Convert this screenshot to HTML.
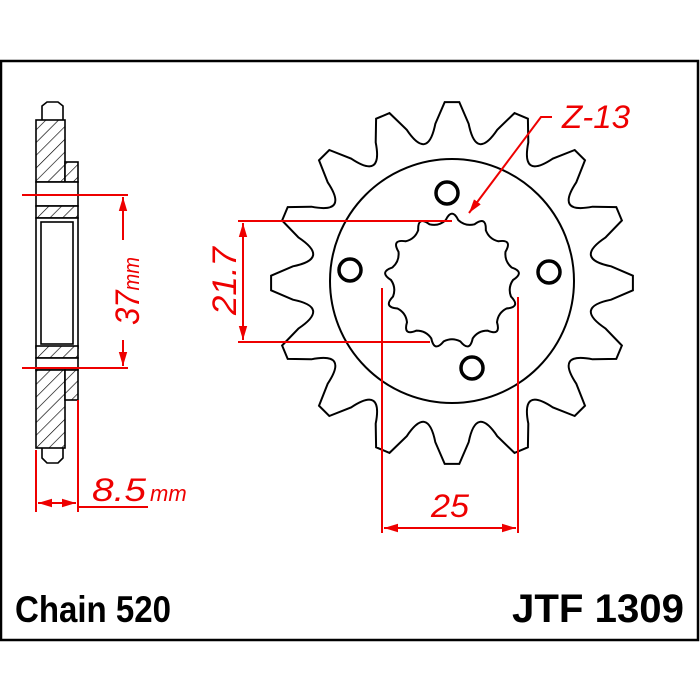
<!DOCTYPE html>
<html><head><meta charset="utf-8"><style>
html,body{margin:0;padding:0;background:#fff;}
svg{display:block;}
text{font-family:"Liberation Sans",sans-serif;}
</style></head><body>
<svg id="s" width="700" height="700" viewBox="0 0 700 700" xmlns="http://www.w3.org/2000/svg">
<defs>
<pattern id="h" patternUnits="userSpaceOnUse" width="9" height="9" patternTransform="rotate(45)">
<rect width="9" height="9" fill="#fff"/><line x1="0" y1="0" x2="0" y2="9" stroke="#000" stroke-width="1.3"/>
</pattern>
<marker id="a" viewBox="0 0 10 10" refX="10" refY="5" markerWidth="7" markerHeight="7" orient="auto-start-reverse"><path d="M0,2 L10,5 L0,8 z" fill="#e00"/></marker>
</defs>
<rect x="1" y="61" width="697" height="579" fill="#fff" stroke="#000" stroke-width="2.5"/>

<!-- side view -->
<g stroke="#000" stroke-width="1.6">
<path d="M42,120 L42,106 L47,102 L58,102 L63,106 L63,120" fill="#fff"/>
<path d="M42,446 L42,458 L47,463 L58,463 L63,458 L63,446" fill="#fff"/>
<rect x="36" y="120" width="29" height="62" fill="url(#h)"/>
<rect x="65" y="162" width="13" height="20" fill="url(#h)"/>
<rect x="36" y="182" width="42" height="24" fill="#fff"/>
<rect x="36" y="206" width="42" height="12" fill="url(#h)"/>
<rect x="36" y="218" width="42" height="130" fill="#fff"/>
<rect x="41" y="222" width="32" height="122" fill="#fff"/>
<rect x="36" y="346" width="42" height="12" fill="url(#h)"/>
<rect x="36" y="358" width="42" height="12" fill="#fff"/>
<rect x="36" y="370" width="29" height="78" fill="url(#h)"/>
<rect x="65" y="370" width="13" height="30" fill="url(#h)"/>
</g>

<!-- sprocket -->
<path id="sp" fill="#fff" stroke="#000" stroke-width="2"/>
<circle cx="452" cy="281" r="122" fill="none" stroke="#000" stroke-width="2"/>
<path id="spl" fill="#fff" stroke="#000" stroke-width="2"/>
<g fill="none" stroke="#000" stroke-width="3.5">
<circle cx="447" cy="193" r="11"/><circle cx="350" cy="270" r="11"/>
<circle cx="549" cy="272" r="11"/><circle cx="472" cy="368" r="11"/>
</g>

<!-- dimensions -->
<g stroke="#e00" stroke-width="2" fill="none">
<line x1="22" y1="195" x2="128" y2="195"/><line x1="22" y1="368" x2="128" y2="368"/>
<line x1="123" y1="197" x2="123" y2="240" marker-start="url(#a)"/>
<line x1="123" y1="340" x2="123" y2="366" marker-end="url(#a)"/>
<line x1="36" y1="450" x2="36" y2="512"/><line x1="78" y1="400" x2="78" y2="512"/>
<line x1="38" y1="503" x2="76" y2="503" marker-start="url(#a)" marker-end="url(#a)"/>
<line x1="78" y1="507" x2="148" y2="507"/>
<line x1="238" y1="221" x2="452" y2="221"/><line x1="238" y1="342" x2="430" y2="342"/>
<line x1="243" y1="223" x2="243" y2="340" marker-start="url(#a)" marker-end="url(#a)"/>
<line x1="382" y1="288" x2="382" y2="533"/><line x1="518" y1="297" x2="518" y2="533"/>
<line x1="384" y1="528" x2="516" y2="528" marker-start="url(#a)" marker-end="url(#a)"/>
<path d="M552,117 L541,117 L469,213" marker-end="url(#a)"/>
</g>
<g fill="#e00" font-style="italic">
<text x="0" y="0" font-size="34" transform="translate(139,325) rotate(-90)" textLength="68" lengthAdjust="spacingAndGlyphs">37<tspan font-size="22">mm</tspan></text>
<text x="0" y="0" font-size="34" transform="translate(236,315) rotate(-90)" textLength="68" lengthAdjust="spacingAndGlyphs">21.7</text>
<text x="92" y="501" font-size="32" textLength="54" lengthAdjust="spacingAndGlyphs">8.5</text>
<text x="150" y="501" font-size="22">mm</text>
<text x="431" y="517" font-size="32" textLength="38" lengthAdjust="spacingAndGlyphs">25</text>
<text x="562" y="128" font-size="32" textLength="68" lengthAdjust="spacingAndGlyphs">Z-13</text>
</g>
<text x="15" y="622" font-size="37" font-weight="bold" textLength="156" lengthAdjust="spacingAndGlyphs">Chain 520</text>
<text x="512" y="622" font-size="40" font-weight="bold" textLength="172" lengthAdjust="spacingAndGlyphs">JTF 1309</text>
</svg>
<script>
(function(){
var cx=452,cy=283,N=16,d="";
function p(r,a){a=a*Math.PI/180-Math.PI/2;return (cx+r*Math.cos(a)).toFixed(1)+","+(cy+r*Math.sin(a)).toFixed(1);}
var st=360/N;
for(var i=0;i<N;i++){var t=i*st;
 d+=(i?"L":"M")+p(160,t-6)+"L"+p(181,t-2.3)+"L"+p(181,t+2.3)+"L"+p(160,t+6)+"Q"+p(124,t+st/2)+" "+p(160,t+st-6);}
document.getElementById("sp").setAttribute("d",d+"Z");
var M=13,e="";cx=452;cy=281;var s2=360/M;
for(var j=0;j<M;j++){var u=j*s2;
 e+=(j?"L":"M")+p(61,u-6)+"Q"+p(74,u)+" "+p(61,u+6)+"Q"+p(56,u+s2/2)+" "+p(61,u+s2-6);}
document.getElementById("spl").setAttribute("d",e+"Z");
})();
</script>
</body></html>
